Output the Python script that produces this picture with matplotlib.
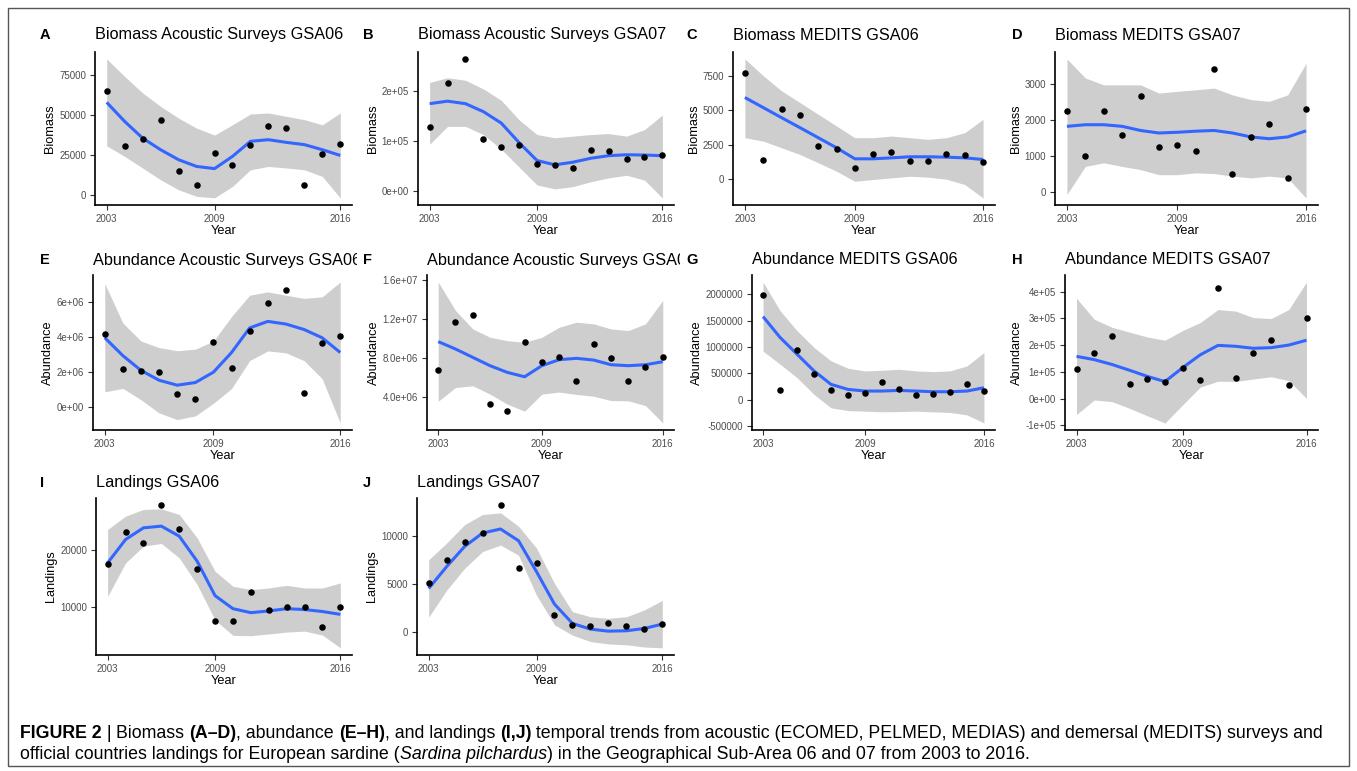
import matplotlib
matplotlib.use('Agg')
import matplotlib.pyplot as plt
from matplotlib.patches import Rectangle
from matplotlib.transforms import Bbox, TransformedBbox

plt.rcParams['font.family'] = ['Liberation Sans', 'DejaVu Sans']

W, H = 1357, 771

years = list(range(2003, 2017))
year_ticks = [2003, 2009, 2016]

# A - Biomass acoustic GSA06
a_obs = [65400, 30800, 35200, 47000, 15100, 6300, 26400, 18900, 31500, 43000, 41700, 5900, 25400, 31700]
a_fit = [58100, 46100, 35600, 28300, 22000, 17800, 16400, 24100, 33600, 34600, 32900, 31500, 28300, 24700]
a_hi = [85400, 74400, 64000, 55600, 48200, 41900, 37500, 44000, 50800, 51400, 49300, 47200, 44000, 51400]
a_lo = [30800, 24100, 16800, 9400, 3100, -1000, -2000, 5200, 15700, 17800, 16800, 15700, 11500, -2100]

# B - Biomass acoustic GSA07
b_obs = [127500, 216300, 264700, 103300, 88900, 92200, 53600, 52900, 46400, 81700, 80400, 64100, 68600, 71200]
b_fit = [175000, 180000, 175000, 159000, 136000, 96700, 60800, 52300, 57500, 65400, 70600, 72500, 71900, 70600]
b_hi = [217600, 227000, 222000, 204600, 181700, 142500, 113000, 106500, 109800, 113000, 115000, 109800, 122900, 152300]
b_lo = [93500, 129400, 129400, 113000, 83700, 47700, 11800, 3900, 8500, 18300, 26100, 31400, 21600, -14400]

# C - Biomass MEDITS GSA06
c_obs = [7740, 1350, 5090, 4700, 2380, 2140, 810, 1790, 1970, 1300, 1300, 1770, 1700, 1200]
c_fit = [5950, 5210, 4470, 3740, 3000, 2260, 1450, 1450, 1520, 1600, 1600, 1570, 1520, 1400]
c_hi = [8780, 7550, 6440, 5580, 4720, 3860, 3000, 3000, 3120, 3000, 2880, 3000, 3370, 4350]
c_lo = [3000, 2750, 2260, 1770, 1160, 540, -200, -70, 50, 170, 100, -50, -440, -1430]

# D - Biomass MEDITS GSA07
d_obs = [2230, 990, 2230, 1580, 2670, 1250, 1290, 1120, 3420, 490, 1510, 1880, 390, 2300]
d_fit = [1815, 1860, 1860, 1815, 1700, 1630, 1650, 1680, 1700, 1630, 1520, 1470, 1520, 1690]
d_hi = [3690, 3160, 2970, 2970, 2970, 2740, 2790, 2830, 2880, 2690, 2560, 2510, 2690, 3570]
d_lo = [-80, 700, 800, 700, 610, 470, 470, 520, 500, 430, 380, 430, 380, -180]

# E - Abundance acoustic GSA06
e_obs = [4.14e6, 2.18e6, 2.03e6, 2.01e6, 0.76e6, 0.47e6, 3.71e6, 2.20e6, 4.36e6, 5.95e6, 6.65e6, 0.82e6, 3.65e6, 4.04e6]
e_fit = [3.95e6, 2.93e6, 2.09e6, 1.53e6, 1.25e6, 1.40e6, 1.99e6, 3.11e6, 4.51e6, 4.88e6, 4.73e6, 4.42e6, 3.95e6, 3.11e6]
e_hi = [7.03e6, 4.79e6, 3.76e6, 3.39e6, 3.21e6, 3.30e6, 3.76e6, 5.16e6, 6.37e6, 6.56e6, 6.37e6, 6.19e6, 6.28e6, 7.12e6]
e_lo = [0.87e6, 1.07e6, 0.42e6, -0.33e6, -0.71e6, -0.50e6, 0.22e6, 1.06e6, 2.65e6, 3.20e6, 3.09e6, 2.65e6, 1.62e6, -0.90e6]

# F - Abundance acoustic GSA07
f_obs = [6.79e6, 11.76e6, 12.48e6, 3.24e6, 2.55e6, 9.66e6, 7.62e6, 8.07e6, 5.66e6, 9.41e6, 7.97e6, 5.66e6, 7.10e6, 8.14e6]
f_fit = [9.69e6, 8.93e6, 8.07e6, 7.21e6, 6.52e6, 6.07e6, 7.21e6, 7.83e6, 7.97e6, 7.79e6, 7.31e6, 7.21e6, 7.31e6, 7.62e6]
f_hi = [15.83e6, 12.90e6, 11.00e6, 10.14e6, 9.79e6, 9.62e6, 10.14e6, 11.17e6, 11.69e6, 11.52e6, 11.00e6, 10.83e6, 11.52e6, 13.93e6]
f_lo = [3.55e6, 4.96e6, 5.14e6, 4.28e6, 3.25e6, 2.52e6, 4.28e6, 4.49e6, 4.25e6, 4.06e6, 3.62e6, 3.59e6, 3.10e6, 1.31e6]

# G - Abundance MEDITS GSA06
g_obs = [1994000, 178000, 949000, 497000, 185000, 96000, 134000, 338000, 197000, 83000, 102000, 140000, 306000, 166000]
g_fit = [1580000, 1185000, 866000, 548000, 293000, 197000, 166000, 166000, 178000, 166000, 153000, 153000, 166000, 229000]
g_hi = [2236000, 1694000, 1312000, 994000, 739000, 599000, 548000, 560000, 580000, 548000, 535000, 548000, 643000, 898000]
g_lo = [924000, 676000, 420000, 102000, -153000, -205000, -216000, -228000, -224000, -216000, -229000, -240000, -287000, -440000]

# H - Abundance MEDITS GSA07
h_obs = [110000, 171600, 235600, 55600, 73700, 64000, 116000, 70100, 414500, 76100, 172800, 221100, 49500, 303300]
h_fit = [158300, 146200, 128100, 106400, 83500, 64000, 116000, 164400, 199400, 196000, 188500, 190900, 200600, 218700]
h_hi = [375800, 297300, 267100, 249000, 230800, 218700, 255000, 285200, 333500, 327500, 303300, 299700, 333500, 436300]
h_lo = [-59200, -4900, -10900, -36000, -63800, -90700, -23000, 43600, 65300, 64500, 73700, 82100, 67700, 1100]

# I - Landings GSA06
i_obs = [17530, 23290, 21290, 27940, 23650, 16710, 7460, 7570, 12590, 9410, 9950, 9940, 6390, 10000]
i_fit = [17760, 21880, 23940, 24240, 22470, 18060, 12000, 9700, 9000, 9300, 9700, 9550, 9200, 8700]
i_hi = [23650, 26000, 27180, 27290, 26290, 22180, 16290, 13650, 13060, 13350, 13820, 13350, 13350, 14240]
i_lo = [11870, 17760, 20700, 21190, 18650, 13940, 7710, 5000, 4940, 5250, 5580, 5750, 5050, 2800]

# J - Landings GSA07
j_obs = [5070, 7500, 9440, 10320, 13270, 6730, 7250, 1760, 700, 600, 950, 630, 250, 810]
j_fit = [4540, 6830, 8940, 10350, 10770, 9540, 6300, 2900, 880, 280, 70, 110, 350, 810]
j_hi = [7540, 9300, 11230, 12290, 12460, 11060, 8770, 5070, 2110, 1580, 1410, 1580, 2290, 3300]
j_lo = [1540, 4360, 6650, 8410, 9080, 8020, 3830, 730, -350, -1020, -1270, -1360, -1590, -1680]

letters = ['A', 'B', 'C', 'D', 'E', 'F', 'G', 'H', 'I', 'J']
titles = ['Biomass Acoustic Surveys GSA06', 'Biomass Acoustic Surveys GSA07',
          'Biomass MEDITS GSA06', 'Biomass MEDITS GSA07',
          'Abundance Acoustic Surveys GSA06', 'Abundance Acoustic Surveys GSA07',
          'Abundance MEDITS GSA06', 'Abundance MEDITS GSA07',
          'Landings GSA06', 'Landings GSA07']
ylabels = ['Biomass'] * 4 + ['Abundance'] * 4 + ['Landings'] * 2

yticks = [
    [0, 25000, 50000, 75000],
    [0, 1e5, 2e5],
    [0, 2500, 5000, 7500],
    [0, 1000, 2000, 3000],
    [0, 2e6, 4e6, 6e6],
    [4e6, 8e6, 1.2e7, 1.6e7],
    [-5e5, 0, 5e5, 1e6, 1.5e6, 2e6],
    [-1e5, 0, 1e5, 2e5, 3e5, 4e5],
    [10000, 20000],
    [0, 5000, 10000],
]
yticklabels = [
    ['0', '25000', '50000', '75000'],
    ['0e+00', '1e+05', '2e+05'],
    ['0', '2500', '5000', '7500'],
    ['0', '1000', '2000', '3000'],
    ['0e+00', '2e+06', '4e+06', '6e+06'],
    ['4.0e+06', '8.0e+06', '1.2e+07', '1.6e+07'],
    ['-500000', '0', '500000', '1000000', '1500000', '2000000'],
    ['-1e+05', '0e+00', '1e+05', '2e+05', '3e+05', '4e+05'],
    ['10000', '20000'],
    ['0', '5000', '10000'],
]

series = [(a_obs, a_fit, a_lo, a_hi), (b_obs, b_fit, b_lo, b_hi),
          (c_obs, c_fit, c_lo, c_hi), (d_obs, d_fit, d_lo, d_hi),
          (e_obs, e_fit, e_lo, e_hi), (f_obs, f_fit, f_lo, f_hi),
          (g_obs, g_fit, g_lo, g_hi), (h_obs, h_fit, h_lo, h_hi),
          (i_obs, i_fit, i_lo, i_hi), (j_obs, j_fit, j_lo, j_hi)]

# layout in pixels (from top-left)
panel_left = [95, 418, 733, 1055, 93, 427, 752, 1065, 96, 417]
col_right = [352, 674, 995, 1318]
cell_left = [35, 357, 680, 1003, 1345]
letter_x = [40, 363, 686, 1012]
row_top = [52, 275, 498]
row_bot = [205, 430, 655]
title_y = [35, 260, 483]


def fx(x):
    return x / W


def fy(y):
    return 1 - y / H


fig = plt.figure(figsize=(W / 100, H / 100), dpi=100)

for k in range(10):
    row, col = divmod(k, 4)
    obs, fit, lo, hi = series[k]
    left = panel_left[k]
    right = col_right[col]
    ax = fig.add_axes([fx(left), fy(row_bot[row]), (right - left) / W,
                       (row_bot[row] - row_top[row]) / H])
    ax.fill_between(years, lo, hi, color='#999999', alpha=0.48, lw=0)
    ax.plot(years, fit, color='#3366FF', lw=2.2, solid_capstyle='butt')
    ax.scatter(years, obs, s=22, color='black', zorder=3, lw=0)

    vals = list(obs) + list(lo) + list(hi)
    vmin, vmax = min(vals), max(vals)
    pad = 0.05 * (vmax - vmin)
    ax.set_ylim(vmin - pad, vmax + pad)
    ax.set_xlim(2003 - 0.65, 2016 + 0.65)

    ax.set_xticks(year_ticks)
    ax.set_xticklabels([str(y) for y in year_ticks])
    ax.set_yticks(yticks[k])
    ax.set_yticklabels(yticklabels[k])
    ax.tick_params(length=3.5, width=0.8, color='#333333', labelsize=7,
                   labelcolor='#4D4D4D', pad=3)
    for s in ['top', 'right']:
        ax.spines[s].set_visible(False)
    for s in ['left', 'bottom']:
        ax.spines[s].set_linewidth(1.2)
        ax.spines[s].set_color('black')
    ax.set_xlabel('Year', fontsize=9.2, labelpad=1)
    ax.set_ylabel(ylabels[k], fontsize=9.2, labelpad=2)

    # title, clipped at the cell edge like the original grid
    t = fig.text(fx(left), fy(title_y[row]), titles[k], fontsize=11.7,
                 ha='left', va='center')
    clip = TransformedBbox(Bbox([[fx(cell_left[col]), 0],
                                 [fx(cell_left[col + 1]), 1]]), fig.transFigure)
    t.set_clip_box(clip)
    t.set_clip_on(True)
    fig.text(fx(letter_x[col]), fy(title_y[row]), letters[k], fontsize=10.5,
             fontweight='bold', ha='left', va='center')

# caption with mixed styles
renderer = fig.canvas.get_renderer()


def run_width(s, **kw):
    t1 = fig.text(0, 0, '|' + s + '|', **kw)
    t2 = fig.text(0, 0, '||', **kw)
    w = t1.get_window_extent(renderer).width - t2.get_window_extent(renderer).width
    t1.remove()
    t2.remove()
    return w


def put_runs(x, y, runs, size):
    for txt, weight, style in runs:
        kw = dict(fontsize=size, fontweight=weight, fontstyle=style)
        fig.text(fx(x), fy(y), txt, va='baseline', ha='left', **kw)
        x += run_width(txt, **kw)


cap_size = 12.8
line1 = [('FIGURE 2', 'bold', 'normal'), (' | ', 'normal', 'normal'),
         ('Biomass ', 'normal', 'normal'), ('(A\u2013D)', 'bold', 'normal'),
         (', abundance ', 'normal', 'normal'), ('(E\u2013H)', 'bold', 'normal'),
         (', and landings ', 'normal', 'normal'), ('(I,J)', 'bold', 'normal'),
         (' temporal trends from acoustic (ECOMED, PELMED, MEDIAS) and demersal (MEDITS) surveys and',
          'normal', 'normal')]
line2 = [('official countries landings for European sardine (', 'normal', 'normal'),
         ('Sardina pilchardus', 'normal', 'italic'),
         (') in the Geographical Sub-Area 06 and 07 from 2003 to 2016.', 'normal', 'normal')]
put_runs(20, 738, line1, cap_size)
put_runs(20, 759, line2, cap_size)

fig.add_artist(Rectangle((fx(8), fy(766)), (1349 - 8) / W, (766 - 8) / H,
                         transform=fig.transFigure, fill=False,
                         edgecolor='#555555', lw=1.0))

fig.savefig('out.png', dpi=100)
